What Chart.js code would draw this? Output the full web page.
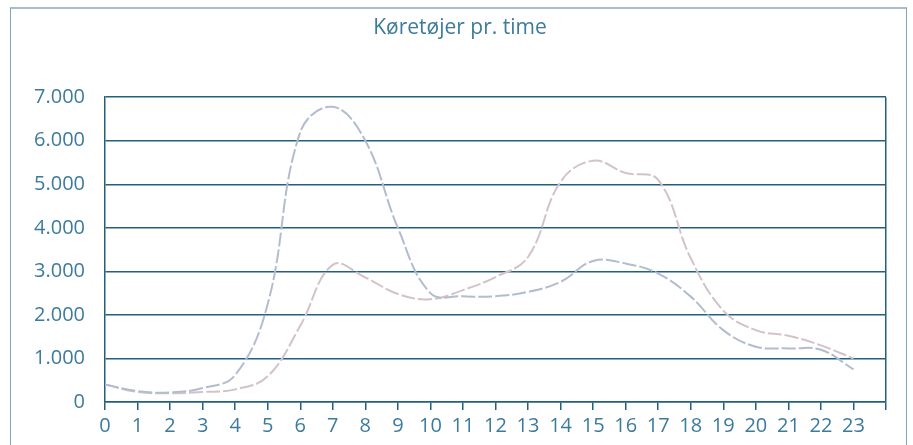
<!DOCTYPE html>
<html>
<head>
<meta charset="utf-8">
<script src="https://cdn.jsdelivr.net/npm/chart.js@4"></script>
<style>
  html, body { margin: 0; padding: 0; background: #ffffff; overflow: hidden; }
  #wrap { position: relative; width: 913px; height: 445px; }
  #frame { position: absolute; left: 10px; top: 7px; width: 897px; height: 460px;
           border-top: 2px solid #a6bfcd; border-left: 1px solid #7ea6bf; border-right: 1px solid #7ea6bf; box-sizing: border-box; }
  canvas { position: absolute; left: 0; top: 0; }
</style>
</head>
<body>
<div id="wrap">
  <div id="frame"></div>
  <canvas id="c" width="913" height="445"></canvas>
</div>
<script>
// Hours of the day
const hours = [0,1,2,3,4,5,6,7,8,9,10,11,12,13,14,15,16,17,18,19,20,21,22,23];
// Series with morning peak (blue-grey)
const morningPeak = [400,250,220,320,620,2250,6200,6780,6000,4000,2500,2430,2430,2530,2760,3240,3180,2950,2420,1650,1270,1230,1200,750];
// Series with afternoon peak (pink-grey)
const afternoonPeak = [400,230,200,230,290,590,1750,3150,2860,2480,2360,2570,2870,3330,5060,5540,5260,5100,3300,2100,1650,1520,1300,1000];
// Axis settings
const yTicks = [0,1000,2000,3000,4000,5000,6000,7000];
const titleText = 'Køretøjer pr. time';

const axisColor = '#23607f';
const textColor = '#3d7b9d';
const font = "'Open Sans', 'Noto Sans', sans-serif";

function toPoints(vals) { return hours.map((h, i) => ({ x: h, y: vals[i] })); }

new Chart(document.getElementById('c'), {
  type: 'line',
  data: {
    datasets: [
      { label: 'A', data: toPoints(morningPeak), borderColor: '#b1bdcf', borderWidth: 2,
        borderDash: [14, 3], pointRadius: 0, tension: 0.4, fill: false },
      { label: 'B', data: toPoints(afternoonPeak), borderColor: '#d4c2ca', borderWidth: 2,
        borderDash: [14, 3], pointRadius: 0, tension: 0.4, fill: false }
    ]
  },
  options: {
    responsive: false,
    animation: false,
    devicePixelRatio: 1,
    layout: { padding: { left: 34, right: 27, top: 0, bottom: 0 } },
    plugins: {
      legend: { display: false },
      tooltip: { enabled: false },
      title: { display: true, text: titleText, color: textColor,
               font: { family: font, size: 21, weight: 'normal', lineHeight: 1.2 },
               padding: { top: 15, bottom: 57 } }
    },
    scales: {
      x: {
        type: 'linear', min: 0, max: 24,
        afterFit: s => { s.height = 43; },
        ticks: { stepSize: 1, autoSkip: false, maxRotation: 0, color: textColor, padding: 4,
                 font: { family: font, size: 20 },
                 callback: v => (v >= 0 && v <= 23) ? String(v) : '' },
        grid: { color: ctx => (ctx.tick && ctx.tick.value === 24) ? axisColor : 'rgba(0,0,0,0)',
                tickColor: axisColor, tickLength: 8, lineWidth: 1.5 },
        border: { display: true, color: axisColor, width: 1.5 }
      },
      y: {
        min: 0, max: 7000,
        afterFit: s => { s.width = 71; },
        afterBuildTicks: s => { s.ticks = yTicks.map(v => ({ value: v })); },
        ticks: { color: textColor, padding: 20, font: { family: font, size: 20 },
                 callback: v => v === 0 ? '0' : v.toLocaleString('de-DE') },
        grid: { color: axisColor, lineWidth: 1.5, drawTicks: false },
        border: { display: true, color: axisColor, width: 1.5 }
      }
    }
  }
});
</script>
</body>
</html>
